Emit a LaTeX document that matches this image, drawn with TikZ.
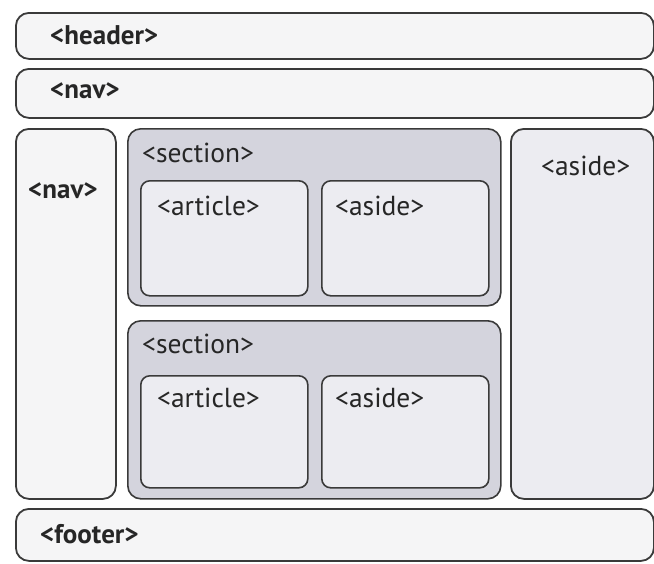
\documentclass[tikz,border=0pt]{standalone}
\usepackage{fontspec}
\setmainfont{PT Sans}
\usetikzlibrary{positioning}
\definecolor{edge}{HTML}{3A3A3A}
\definecolor{pagefill}{HTML}{F5F5F6}
\definecolor{sectfill}{HTML}{D4D4DD}
\definecolor{boxfill}{HTML}{ECECF1}
\begin{document}
\begin{tikzpicture}[x=1pt, y=-1pt,
    outer/.style={rectangle, draw=edge, line width=1.8pt, rounded corners=13pt, fill=pagefill, anchor=north west, inner sep=0pt},
    sect/.style={rectangle, draw=edge, line width=1.6pt, rounded corners=13pt, fill=sectfill, anchor=north west, inner sep=0pt},
    inner/.style={rectangle, draw=edge, line width=1.6pt, rounded corners=9pt, fill=boxfill, anchor=north west, inner sep=0pt},
    tag/.style={anchor=base west, inner sep=0pt, text=black!85, font=\fontsize{27.5}{31}\selectfont},
    bigtag/.style={tag, font=\fontsize{27}{31}\selectfont\bfseries}
]
\useasboundingbox (0,0) rectangle (654,563);
% outer frame
\node[outer, minimum width=638pt, minimum height=46pt] (header) at (15,12) {};
\node[outer, minimum width=638pt, minimum height=49pt] (topnav) at (15,68) {};
\node[outer, minimum width=100pt, minimum height=370pt] (sidenav) at (15,128) {};
\node[outer, fill=boxfill, minimum width=143pt, minimum height=370pt] (sideaside) at (510,128) {};
\node[outer, minimum width=638pt, minimum height=52pt] (footer) at (15,508) {};
% sections
\node[sect, minimum width=373pt, minimum height=177pt] (sectA) at (127,128) {};
\node[inner, minimum width=167pt, minimum height=115pt] (articleA) at (140,180) {};
\node[inner, minimum width=167pt, minimum height=115pt] (asideA) at (321,180) {};
\node[sect, minimum width=373pt, minimum height=178pt] (sectB) at (127,320) {};
\node[inner, minimum width=167pt, minimum height=112pt] (articleB) at (140,375) {};
\node[inner, minimum width=167pt, minimum height=112pt] (asideB) at (321,375) {};
% labels
\node[bigtag] (headertag) at ([shift={(35,32)}]header.north west) {<header>};
\node[bigtag] (topnavtag) at ([shift={(35,30)}]topnav.north west) {<nav>};
\node[bigtag] (sidenavtag) at ([shift={(13,70)}]sidenav.north west) {<nav>};
\node[tag] (sideasidetag) at ([shift={(31,47)}]sideaside.north west) {<aside>};
\node[bigtag] (footertag) at ([shift={(25,35)}]footer.north west) {<footer>};
\node[tag] (sectAtag) at ([shift={(15,34)}]sectA.north west) {<section>};
\node[tag] (articleAtag) at ([shift={(17,35)}]articleA.north west) {<article>};
\node[tag] (asideAtag) at ([shift={(14,35)}]asideA.north west) {<aside>};
\node[tag] (sectBtag) at ([shift={(15,33)}]sectB.north west) {<section>};
\node[tag] (articleBtag) at ([shift={(17,32)}]articleB.north west) {<article>};
\node[tag] (asideBtag) at ([shift={(14,32)}]asideB.north west) {<aside>};
\end{tikzpicture}
\end{document}
